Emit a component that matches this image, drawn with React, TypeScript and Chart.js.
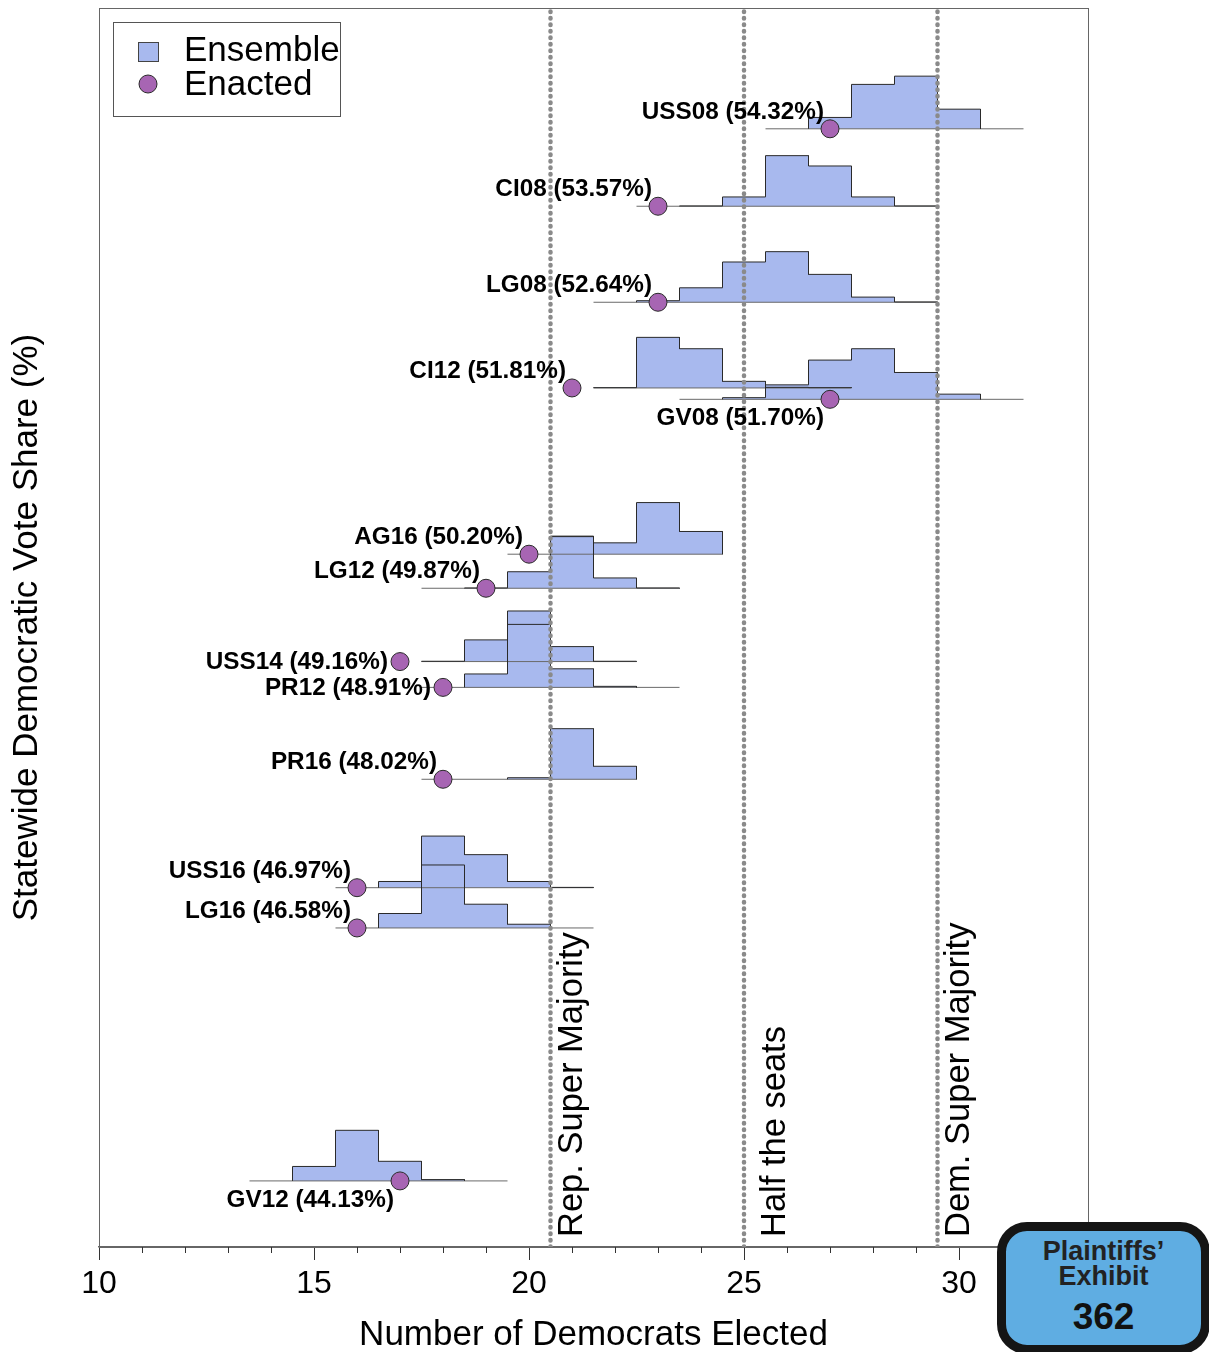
import React, { useEffect, useRef } from "react";
import { Chart, registerables } from "chart.js";

Chart.register(...registerables);

// ---------------- DATA ----------------
const ELECTIONS = ["USS08", "CI08", "LG08", "CI12", "GV08", "AG16", "LG12", "USS14", "PR12", "PR16", "USS16", "LG16", "GV12"];
const VOTE_SHARE = [54.32, 53.57, 52.64, 51.81, 51.70, 50.20, 49.87, 49.16, 48.91, 48.02, 46.97, 46.58, 44.13];
const ENACTED = [27, 23, 23, 21, 27, 20, 19, 17, 18, 18, 16, 16, 17];
// first seat count of each ensemble histogram
const BIN_START = [27, 24, 23, 22, 25, 21, 19, 18, 19, 20, 17, 17, 15];
// ensemble histogram heights (in vote-share units above the baseline)
const HIST_USS08 = [0.11, 0.43, 0.51, 0.19];
const HIST_CI08 = [0.003, 0.09, 0.49, 0.39, 0.09, 0.003];
const HIST_LG08 = [0.015, 0.14, 0.39, 0.49, 0.27, 0.05, 0.003];
const HIST_CI12 = [0.003, 0.49, 0.38, 0.064, 0.006, 0.003];
const HIST_GV08 = [0.016, 0.14, 0.38, 0.49, 0.26, 0.05];
const HIST_AG16 = [0.175, 0.11, 0.5, 0.22];
const HIST_LG12 = [0.003, 0.16, 0.5, 0.1, 0.003];
const HIST_USS14 = [0.003, 0.21, 0.49, 0.145, 0.003];
const HIST_PR12 = [0.13, 0.61, 0.18, 0.01];
const HIST_PR16 = [0.015, 0.49, 0.126];
const HIST_USS16 = [0.06, 0.5, 0.32, 0.06, 0.003];
const HIST_LG16 = [0.14, 0.61, 0.23, 0.036];
const HIST_GV12 = [0.14, 0.49, 0.19, 0.013];
const HISTS = [HIST_USS08, HIST_CI08, HIST_LG08, HIST_CI12, HIST_GV08, HIST_AG16, HIST_LG12, HIST_USS14, HIST_PR12, HIST_PR16, HIST_USS16, HIST_LG16, HIST_GV12];
// extent of each baseline rule
const LINE_MIN = [25.5, 22.5, 21.5, 21.5, 23.5, 19.5, 17.5, 17.5, 17.5, 17.5, 15.5, 15.5, 13.5];
const LINE_MAX = [31.5, 29.5, 29.5, 27.5, 31.5, 24.5, 23.5, 22.5, 23.5, 22.5, 21.5, 21.5, 19.5];
const LABEL_SIDE = ["above", "above", "above", "above", "below", "above", "above", "left", "left", "above", "above", "above", "below"];

const REF_X = [20.5, 25, 29.5];
const REF_LABELS = ["Rep. Super Majority", "Half the seats", "Dem. Super Majority"];
const REF_LABEL_OFFSET = [31.5, 40.5, 31];

const X_TICKS = [10, 15, 20, 25, 30];
const X_MIN = 10;
const X_MAX = 33;
const Y_MIN = 43.49;
const Y_MAX = 55.49;

const LEGEND_LABELS = ["Ensemble", "Enacted"];

// ---------------- STYLE ----------------
const FONT = "'Liberation Sans', Arial, Helvetica, sans-serif";
const FILL = "#a8b9ee";
const DOT = "#a765b3";
const OUTLINE = "#2a2a2a";

function histOutline(i: number) {
  const base = VOTE_SHARE[i];
  const h = HISTS[i];
  const s = BIN_START[i];
  const pts: { x: number; y: number }[] = [{ x: s - 0.5, y: base }];
  h.forEach((v, k) => {
    pts.push({ x: s + k - 0.5, y: base + v });
    pts.push({ x: s + k + 0.5, y: base + v });
  });
  pts.push({ x: s + h.length - 0.5, y: base });
  return pts;
}

const decorPlugin = {
  id: "decor",
  beforeDatasetsDraw(chart: any) {
    const { ctx, chartArea } = chart;
    ctx.save();
    ctx.strokeStyle = "#666";
    ctx.lineWidth = 1;
    ctx.strokeRect(chartArea.left + 0.5, chartArea.top + 0.5, chartArea.right - chartArea.left, chartArea.bottom - chartArea.top);
    ctx.restore();
  },
  afterDraw(chart: any) {
    const { ctx, chartArea, scales } = chart;
    const xs = scales.x;
    const ys = scales.y;
    ctx.save();
    // minor ticks
    ctx.strokeStyle = "#333";
    ctx.lineWidth = 1;
    for (let v = X_MIN; v <= X_MAX; v++) {
      if (X_TICKS.includes(v)) continue;
      const px = Math.round(xs.getPixelForValue(v)) + 0.5;
      ctx.beginPath();
      ctx.moveTo(px, chartArea.bottom);
      ctx.lineTo(px, chartArea.bottom + 6);
      ctx.stroke();
    }
    // reference labels
    ctx.fillStyle = "#000";
    ctx.font = `34.5px ${FONT}`;
    ctx.textAlign = "left";
    ctx.textBaseline = "alphabetic";
    REF_X.forEach((v, i) => {
      const px = xs.getPixelForValue(v) + REF_LABEL_OFFSET[i];
      ctx.save();
      ctx.translate(px, chartArea.bottom - 10);
      ctx.rotate(-Math.PI / 2);
      ctx.fillText(REF_LABELS[i], 0, 0);
      ctx.restore();
    });
    // election labels
    ctx.font = `bold 24.3px ${FONT}`;
    ctx.textAlign = "right";
    ELECTIONS.forEach((name, i) => {
      const px = xs.getPixelForValue(ENACTED[i]);
      const py = ys.getPixelForValue(VOTE_SHARE[i]);
      const txt = `${name} (${VOTE_SHARE[i].toFixed(2)}%)`;
      const side = LABEL_SIDE[i];
      if (side === "above") {
        ctx.textBaseline = "alphabetic";
        ctx.fillText(txt, px - 6, py - 10);
      } else if (side === "below") {
        ctx.textBaseline = "alphabetic";
        ctx.fillText(txt, px - 6, py + 26);
      } else {
        ctx.textBaseline = "middle";
        ctx.fillText(txt, px - 12, py + 1);
      }
    });
    // legend
    const lx = chartArea.left + 14;
    const ly = chartArea.top + 14;
    ctx.strokeStyle = "#555";
    ctx.lineWidth = 1;
    ctx.fillStyle = "#fff";
    ctx.fillRect(lx, ly, 227, 94);
    ctx.strokeRect(lx + 0.5, ly + 0.5, 227, 94);
    ctx.fillStyle = FILL;
    ctx.fillRect(lx + 25, ly + 20, 20, 19);
    ctx.strokeStyle = "#444";
    ctx.strokeRect(lx + 25.5, ly + 20.5, 20, 19);
    ctx.beginPath();
    ctx.arc(lx + 35, ly + 62, 9, 0, Math.PI * 2);
    ctx.fillStyle = DOT;
    ctx.fill();
    ctx.strokeStyle = OUTLINE;
    ctx.stroke();
    ctx.fillStyle = "#000";
    ctx.font = `35px ${FONT}`;
    ctx.textAlign = "left";
    ctx.textBaseline = "middle";
    ctx.fillText(LEGEND_LABELS[0], lx + 71, ly + 29);
    ctx.fillText(LEGEND_LABELS[1], lx + 71, ly + 63);
    ctx.restore();
  },
};

export default function App() {
  const ref = useRef<HTMLCanvasElement | null>(null);
  useEffect(() => {
    if (!ref.current) return;
    const datasets: any[] = [];
    datasets.push({
      type: "scatter",
      data: ELECTIONS.map((_, i) => ({ x: ENACTED[i], y: VOTE_SHARE[i] })),
      pointRadius: 9,
      pointHoverRadius: 9,
      backgroundColor: DOT,
      borderColor: OUTLINE,
      borderWidth: 1,
      order: 0,
    });
    REF_X.forEach((v) => {
      datasets.push({
        type: "line",
        data: [
          { x: v, y: Y_MIN },
          { x: v, y: Y_MAX },
        ],
        borderColor: "#8a8a8a",
        borderWidth: 4.5,
        borderDash: [0.5, 6],
        borderCapStyle: "round",
        pointRadius: 0,
        fill: false,
        order: 1,
      });
    });
    ELECTIONS.forEach((_, i) => {
      datasets.push({
        type: "line",
        data: histOutline(i),
        borderColor: OUTLINE,
        borderWidth: 1,
        backgroundColor: FILL,
        fill: { value: VOTE_SHARE[i] },
        pointRadius: 0,
        tension: 0,
        order: 2,
      });
    });
    ELECTIONS.forEach((_, i) => {
      datasets.push({
        type: "line",
        data: [
          { x: LINE_MIN[i], y: VOTE_SHARE[i] },
          { x: LINE_MAX[i], y: VOTE_SHARE[i] },
        ],
        borderColor: "#6a6a6a",
        borderWidth: 1,
        pointRadius: 0,
        fill: false,
        order: 3,
      });
    });

    const chart = new Chart(ref.current, {
      type: "line",
      data: { datasets },
      options: {
        responsive: false,
        animation: false,
        devicePixelRatio: 1,
        layout: { autoPadding: false, padding: { top: 8, right: 121, left: 0, bottom: 0 } },
        plugins: {
          legend: { display: false },
          tooltip: { enabled: false },
          filler: { drawTime: "beforeDatasetsDraw" },
        },
        scales: {
          x: {
            type: "linear",
            min: X_MIN,
            max: X_MAX,
            afterBuildTicks: (s: any) => {
              s.ticks = X_TICKS.map((v) => ({ value: v }));
            },
            afterFit: (s: any) => {
              s.height = 105;
            },
            grid: { display: true, drawOnChartArea: false, drawTicks: true, tickLength: 13, color: "#333" },
            border: { display: true, color: "#666", width: 1.5 },
            ticks: { color: "#000", font: { family: FONT, size: 32 }, padding: 5, maxRotation: 0 },
            title: {
              display: true,
              text: "Number of Democrats Elected",
              color: "#000",
              font: { family: FONT, size: 35 },
              padding: { top: 0, bottom: -4 },
            },
          },
          y: {
            type: "linear",
            min: Y_MIN,
            max: Y_MAX,
            afterFit: (s: any) => {
              s.width = 99;
            },
            grid: { display: false },
            border: { display: false },
            ticks: { display: false },
            title: {
              display: true,
              text: "Statewide Democratic Vote Share (%)",
              color: "#000",
              font: { family: FONT, size: 35 },
              padding: { top: 6, bottom: 0 },
            },
          },
        },
      } as any,
      plugins: [decorPlugin],
    });
    return () => chart.destroy();
  }, []);

  return (
    <div style={{ position: "absolute", left: 0, top: 0, width: 1209, height: 1352, background: "#fff", overflow: "hidden" }}>
      <canvas ref={ref} width={1209} height={1352} style={{ width: 1209, height: 1352, display: "block" }} />
      <div
        style={{
          position: "absolute",
          left: 997,
          top: 1222,
          width: 213,
          height: 132,
          boxSizing: "border-box",
          border: "9px solid #151515",
          borderRadius: 30,
          background: "#5fade2",
          color: "#222",
          fontFamily: FONT,
          fontWeight: "bold",
          textAlign: "center",
        }}
      >
        <div style={{ fontSize: 27, lineHeight: "25px", marginTop: 8 }}>Plaintiffs’</div>
        <div style={{ fontSize: 27, lineHeight: "25px" }}>Exhibit</div>
        <div style={{ fontSize: 37, lineHeight: "40px", marginTop: 8, color: "#111" }}>362</div>
      </div>
    </div>
  );
}
